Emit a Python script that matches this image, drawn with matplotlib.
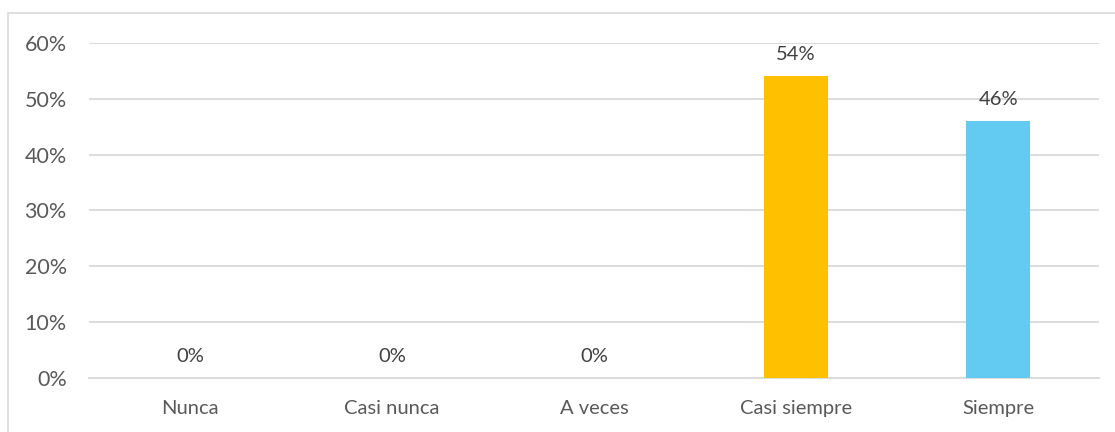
import matplotlib.pyplot as plt
from matplotlib.patches import Rectangle
from matplotlib.ticker import PercentFormatter

categories = ["Nunca", "Casi nunca", "A veces", "Casi siempre", "Siempre"]
values = [0.0, 0.0, 0.0, 0.54, 0.46]
bar_colors = ["#4472c4", "#ed7d31", "#a5a5a5", "#ffc000", "#63caf2"]
yticks = [0.0, 0.1, 0.2, 0.3, 0.4, 0.5, 0.6]

plt.rcParams["font.family"] = ["Lato", "DejaVu Sans"]
text_color = "#595959"

fig = plt.figure(figsize=(11.15, 4.32), dpi=100)
ax = fig.add_axes([0.0798, 0.125, 0.906, 0.7755])

# chart border (Excel style)
fig.patches.append(Rectangle((8 / 1115, -0.01), 1.02, 1 - 13 / 432 + 0.01,
                             transform=fig.transFigure, fill=False,
                             edgecolor="#d9d9d9", linewidth=1.2))

x = range(len(categories))
bars = ax.bar(x, values, width=0.32, color=bar_colors, zorder=3)

for xi, v in zip(x, values):
    ax.text(xi, v + 0.024, f"{v:.0%}", ha="center", va="bottom",
            fontsize=14.5, color="#404040")

ax.set_xlim(-0.5, len(categories) - 0.5)
ax.set_ylim(0, 0.6)
ax.set_yticks(yticks)
ax.yaxis.set_major_formatter(PercentFormatter(1.0, decimals=0))
ax.set_xticks(list(x))
ax.set_xticklabels(categories)
ax.grid(axis="y", color="#d9d9d9", linewidth=1.3, zorder=0)
ax.tick_params(axis="both", length=0, labelsize=14.5, colors=text_color)
ax.tick_params(axis="y", labelsize=15.5, pad=16)
ax.tick_params(axis="x", pad=16)
for side in ["top", "right", "left"]:
    ax.spines[side].set_visible(False)
ax.spines["bottom"].set_color("#d9d9d9")
ax.spines["bottom"].set_linewidth(1.3)

fig.savefig("out.png", dpi=100)
